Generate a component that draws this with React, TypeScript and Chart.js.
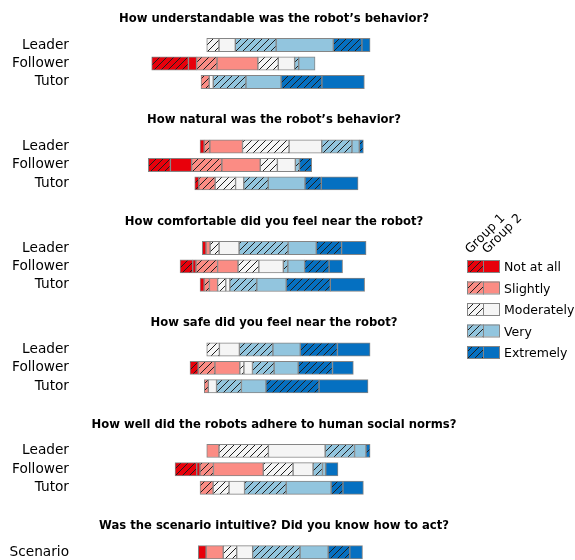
import { useEffect, useRef } from 'react';
import { Chart, registerables } from 'chart.js';

Chart.register(...registerables);

// Survey questions, one block of bars each
const questions = [
  'How understandable was the robot’s behavior?',
  'How natural was the robot’s behavior?',
  'How comfortable did you feel near the robot?',
  'How safe did you feel near the robot?',
  'How well did the robots adhere to human social norms?',
  'Was the scenario intuitive? Did you know how to act?',
];

// One entry per bar row
const rowLabels = [
  'Leader', 'Follower', 'Tutor',
  'Leader', 'Follower', 'Tutor',
  'Leader', 'Follower', 'Tutor',
  'Leader', 'Follower', 'Tutor',
  'Leader', 'Follower', 'Tutor',
  'Scenario',
];
const rowQuestion = [0, 0, 0, 1, 1, 1, 2, 2, 2, 3, 3, 3, 4, 4, 4, 5];

const levels = ['Not at all', 'Slightly', 'Moderately', 'Very', 'Extremely'];
const groups = ['Group 1', 'Group 2'];

// Response shares (%) per row: [Not at all, Slightly, Moderately, Very, Extremely]
const group1 = [
  [0, 0, 15, 50, 35],
  [45, 25, 25, 5, 0],
  [0, 10, 0, 40, 50],
  [0, 7, 57, 37, 5],
  [27, 37, 21, 5, 15],
  [5, 20, 25, 30, 20],
  [0, 0, 11, 60, 31],
  [15.5, 26.5, 25.5, 5.5, 30],
  [0, 6.5, 10, 33, 54],
  [0, 0, 15.5, 41, 45.5],
  [10, 20.5, 5, 26.5, 42],
  [0, 5, 0, 30.5, 65],
  [0, 0, 60.5, 36, 5],
  [26.5, 16.5, 36.5, 11.5, 0],
  [0, 16, 19.5, 51, 14.5],
  [0, 0, 16.5, 58, 26.5],
];
const group2 = [
  [0, 0, 20, 70, 10],
  [10, 50, 20, 20, 0],
  [0, 0, 5, 43, 52],
  [5, 40, 40, 9, 0],
  [26, 47, 22, 0, 0],
  [0, 0, 10, 45, 45],
  [4.5, 5, 24.5, 34.5, 30],
  [4, 25, 30, 20.5, 16.5],
  [5, 10, 5, 36, 42],
  [0, 0, 24.5, 33.5, 40],
  [0, 30.5, 10.5, 29.5, 25.5],
  [0, 0, 10, 30, 60],
  [0, 15, 69.5, 14, 0],
  [4, 61, 24.5, 4, 15],
  [0, 0, 19, 55, 25],
  [9.5, 21, 19.5, 34.5, 15.5],
];
// Where each diverging bar begins, relative to the centre line (same % units)
const barStart = [
  -8.3, -75.7, -15.3,
  -16.5, -79.8, -23,
  -13.7, -41, -16.5,
  -8.3, -28.8, -11.3,
  -8.3, -47.1, -16.5,
  -18.6,
];

const levelColors = ['#e8000b', '#fb8c84', '#f5f5f5', '#92c5de', '#0570c1'];
const EDGE = '#858585';
const BLOCK = 5.5; // rows per question block
const TITLE_OFFSET = 1.41;

function hatch(color: string): CanvasPattern | string {
  const s = 7;
  const c = document.createElement('canvas');
  c.width = s;
  c.height = s;
  const g = c.getContext('2d');
  if (!g) return color;
  g.fillStyle = color;
  g.fillRect(0, 0, s, s);
  g.strokeStyle = '#1e1e1e';
  g.lineWidth = 1;
  g.beginPath();
  g.moveTo(0, s);
  g.lineTo(s, 0);
  g.moveTo(-1, 1);
  g.lineTo(1, -1);
  g.moveTo(s - 1, s + 1);
  g.lineTo(s + 1, s - 1);
  g.stroke();
  return g.createPattern(c, 'repeat') || color;
}

function rowPositions(): number[] {
  const counts: Record<number, number> = {};
  return rowQuestion.map((q) => {
    const k = counts[q] || 0;
    counts[q] = k + 1;
    return q * BLOCK + k;
  });
}

export default function App() {
  const ref = useRef<HTMLCanvasElement | null>(null);

  useEffect(() => {
    if (!ref.current) return;
    const pos = rowPositions();
    const patterns = levelColors.map((c) => hatch(c));

    // segment order within a bar: each level, group 1 then group 2
    const order: [number, number][] = [];
    levels.forEach((_, l) => {
      order.push([l, 0]);
      order.push([l, 1]);
    });

    const datasets = order.map(([l, g]) => {
      const data: { x: [number, number]; y: number }[] = [];
      pos.forEach((y, i) => {
        let from = barStart[i];
        for (const [pl, pg] of order) {
          if (pl === l && pg === g) break;
          from += (pg === 0 ? group1 : group2)[i][pl];
        }
        const v = (g === 0 ? group1 : group2)[i][l];
        if (v > 0) data.push({ x: [from, from + v], y });
      });
      return {
        label: `${levels[l]} (${groups[g]})`,
        data,
        backgroundColor: g === 0 ? patterns[l] : levelColors[l],
        borderColor: EDGE,
        borderWidth: 1,
        borderSkipped: false,
        barThickness: 13.3,
        grouped: false,
      };
    });

    const decorations = {
      id: 'decorations',
      afterDraw(chart: any) {
        const ctx = chart.ctx as CanvasRenderingContext2D;
        const ys = chart.scales.y;
        ctx.save();
        ctx.fillStyle = '#000';
        ctx.font = 'bold 11.6px "DejaVu Sans"';
        ctx.textAlign = 'center';
        ctx.textBaseline = 'middle';
        questions.forEach((q, i) => {
          ctx.fillText(q, 274, ys.getPixelForValue(i * BLOCK - TITLE_OFFSET));
        });

        // legend: hatched swatch = group 1, solid swatch = group 2
        const lx = 467;
        const sw = 16;
        const sh = 12;
        ctx.font = '12.5px "DejaVu Sans"';
        ctx.textAlign = 'left';
        ctx.textBaseline = 'alphabetic';
        groups.forEach((gname, g) => {
          ctx.save();
          ctx.translate(lx + 3 + g * 17, 254);
          ctx.rotate(-Math.PI / 4);
          ctx.fillText(gname, 0, 0);
          ctx.restore();
        });
        ctx.textBaseline = 'middle';
        levels.forEach((name, l) => {
          const cy = 268 + l * 21.5;
          const top = cy - 8;
          ctx.fillStyle = patterns[l] as any;
          ctx.fillRect(lx, top, sw, sh);
          ctx.fillStyle = levelColors[l];
          ctx.fillRect(lx + sw, top, sw, sh);
          ctx.strokeStyle = EDGE;
          ctx.lineWidth = 1;
          ctx.strokeRect(lx + 0.5, top + 0.5, sw, sh);
          ctx.strokeRect(lx + sw + 0.5, top + 0.5, sw, sh);
          ctx.fillStyle = '#000';
          ctx.fillText(name, 504, cy);
        });
        ctx.restore();
      },
    };

    const chart = new Chart(ref.current, {
      type: 'bar',
      data: { datasets: datasets as any },
      options: {
        indexAxis: 'y',
        animation: false,
        responsive: false,
        devicePixelRatio: 1,
        layout: { padding: 0 },
        plugins: { legend: { display: false }, tooltip: { enabled: false } },
        scales: {
          x: {
            type: 'linear',
            display: false,
            min: -169.6,
            max: 442.6,
          },
          y: {
            type: 'linear',
            reverse: true,
            offset: false,
            min: -2.44,
            max: 27.915,
            grid: { display: false, drawTicks: false },
            border: { display: false },
            afterFit(scale: any) {
              scale.width = 75;
              scale.paddingTop = 0;
              scale.paddingBottom = 0;
            },
            afterBuildTicks(scale: any) {
              scale.ticks = pos.map((v) => ({ value: v }));
            },
            ticks: {
              autoSkip: false,
              padding: 6,
              color: '#000',
              font: { family: 'DejaVu Sans', size: 13.7 },
              callback(value: any) {
                const i = pos.indexOf(Number(value));
                return i >= 0 ? rowLabels[i] : '';
              },
            },
          },
        },
      },
      plugins: [decorations],
    });
    return () => chart.destroy();
  }, []);

  return (
    <div style={{ position: 'absolute', left: 0, top: 0, width: 575, height: 560 }}>
      <canvas ref={ref} width={575} height={560} />
    </div>
  );
}
